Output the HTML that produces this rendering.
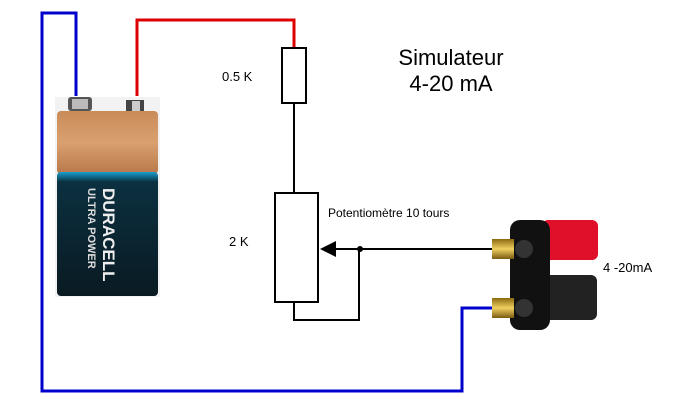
<!DOCTYPE html>
<html><head><style>
body{margin:0;background:#fff;}
svg{display:block;font-family:"Liberation Sans",Arial,sans-serif;}
</style></head><body>
<svg width="679" height="414" viewBox="0 0 679 414">
<defs>
<linearGradient id="cu" x1="0" y1="0" x2="0" y2="1"><stop offset="0" stop-color="#c98c58"/><stop offset="0.5" stop-color="#d9a070"/><stop offset="1" stop-color="#b8784a"/></linearGradient>
<linearGradient id="bk" x1="0" y1="0" x2="0" y2="1"><stop offset="0" stop-color="#1aa0d0"/><stop offset="0.08" stop-color="#0b3040"/><stop offset="1" stop-color="#0a1a22"/></linearGradient>
<linearGradient id="gold" x1="0" y1="0" x2="0" y2="1"><stop offset="0" stop-color="#8a6a10"/><stop offset="0.5" stop-color="#f0d060"/><stop offset="1" stop-color="#7a5a10"/></linearGradient>
</defs>
<polyline points="76,96 76,13 42,13 42,391 462,391 462,308 500,308" fill="none" stroke="#0000cc" stroke-width="3"/>
<polyline points="137,96 137,20 294,20 294,48" fill="none" stroke="#dd0000" stroke-width="3"/>
<rect x="55" y="97" width="105" height="200" fill="#f2f2f2"/>
<rect x="68" y="97" width="24" height="14" rx="3" fill="#555"/>
<rect x="72" y="99" width="16" height="10" fill="#bbb"/>
<rect x="126" y="100" width="18" height="12" fill="#444"/>
<rect x="132" y="101" width="8" height="10" fill="#ccc"/>
<rect x="57" y="111" width="101" height="63" rx="4" fill="url(#cu)"/>
<rect x="57" y="172" width="101" height="124" rx="4" fill="url(#bk)"/>
<text transform="translate(103,188) rotate(90)" font-size="17" font-weight="bold" fill="#eee">DURACELL</text>
<text transform="translate(88,188) rotate(90)" font-size="11" font-weight="bold" fill="#ddd">ULTRA POWER</text>
<rect x="282" y="48" width="24" height="55" fill="#fff" stroke="#000" stroke-width="2"/>
<line x1="294" y1="103" x2="294" y2="193" stroke="#000" stroke-width="2"/>
<text x="222" y="81" font-size="13">0.5 K</text>
<rect x="275" y="193" width="43" height="109" fill="#fff" stroke="#000" stroke-width="2"/>
<polyline points="294,302 294,320 359,320 359,249" fill="none" stroke="#000" stroke-width="2"/>
<line x1="335" y1="249" x2="497" y2="249" stroke="#000" stroke-width="2"/>
<polygon points="320,249 336,241 336,257" fill="#000"/>
<circle cx="360" cy="249" r="3" fill="#000"/>
<text x="229" y="246" font-size="13">2 K</text>
<text x="328" y="217" font-size="12">Potentiomètre 10 tours</text>
<text x="451" y="65" font-size="22" text-anchor="middle">Simulateur</text>
<text x="451" y="91" font-size="22" text-anchor="middle">4-20 mA</text>
<rect x="542" y="220" width="56" height="40" rx="6" fill="#e0102a"/>
<rect x="542" y="275" width="55" height="45" rx="6" fill="#222"/>
<rect x="510" y="220" width="40" height="110" rx="10" fill="#111"/>
<rect x="492" y="239" width="22" height="20" fill="url(#gold)"/>
<rect x="492" y="298" width="22" height="20" fill="url(#gold)"/>
<circle cx="524" cy="249" r="9" fill="#333"/>
<circle cx="524" cy="308" r="9" fill="#333"/>
<text x="603" y="272" font-size="13">4 -20mA</text>
</svg>
</body></html>
